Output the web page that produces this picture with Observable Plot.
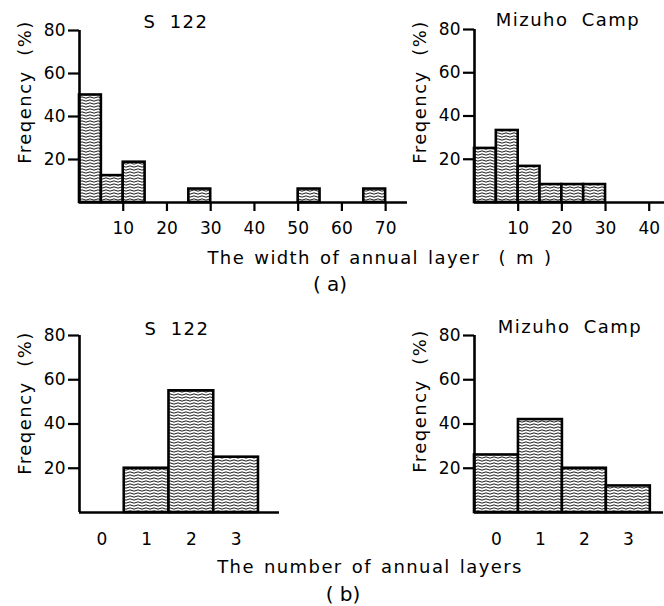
<!DOCTYPE html>
<html><head><meta charset="utf-8">
<script src="https://cdn.jsdelivr.net/npm/d3@7"></script>
<script src="https://cdn.jsdelivr.net/npm/@observablehq/plot@0.6"></script>
<style>
body{margin:0;background:#fff;}
#root{position:relative;width:664px;height:606px;overflow:hidden;font-family:"DejaVu Sans",sans-serif;color:#000;}
.p{position:absolute;}
.t{position:absolute;transform:translate(-50%,-50%);white-space:pre;line-height:1;}
.yl{position:absolute;transform:translate(-50%,-50%) rotate(-90deg);white-space:pre;line-height:1;}
</style></head><body>
<svg width="0" height="0" style="position:absolute">
  <defs>
    <pattern id="wave" patternUnits="userSpaceOnUse" width="8" height="3">
      <rect width="8" height="3" fill="#fff"/>
      <path d="M0 1.5 Q2 0.2 4 1.5 T8 1.5" fill="none" stroke="#000" stroke-width="0.9"/>
    </pattern>
  </defs>
</svg>
<div id="root"></div>
<script>
// ---- data ----
const widthS122Lo = [0, 5, 10, 25, 50, 65];
const widthS122Hi = [5, 10, 15, 30, 55, 70];
const widthS122Freq = [50, 12.5, 18.75, 6.25, 6.25, 6.25];
const widthMizuhoLo = [0, 5, 10, 15, 20, 25];
const widthMizuhoHi = [5, 10, 15, 20, 25, 30];
const widthMizuhoFreq = [25, 33.3, 16.7, 8.3, 8.3, 8.3];
const layersTicks = [0, 1, 2, 3];
const layersS122N = [1, 2, 3];
const layersS122Freq = [20, 55, 25];
const layersMizuhoN = [0, 1, 2, 3];
const layersMizuhoFreq = [26, 42, 20, 12];
const widthTicksS122 = [10, 20, 30, 40, 50, 60, 70];
const widthTicksMizuho = [10, 20, 30, 40];
const freqTicks = [20, 40, 60, 80];
const panelTitles = ["S 122", "Mizuho Camp"];
const yTitle = "Freqency  (%)";
const xTitleA = "The width of annual layer  ( m )";
const xTitleB = "The number of annual layers";

const root = document.getElementById("root");
const FONT = '"DejaVu Sans", sans-serif';

function place(el, left, top) {
  const d = document.createElement("div");
  d.className = "p";
  d.style.left = left + "px";
  d.style.top = top + "px";
  d.appendChild(el);
  root.appendChild(d);
}
function text(str, cx, cy, size, cls = "t", extra = "") {
  const d = document.createElement("div");
  d.className = cls;
  d.textContent = str;
  d.style.left = cx + "px";
  d.style.top = cy + "px";
  d.style.fontSize = size + "px";
  d.style.cssText += extra;
  root.appendChild(d);
}

const barStyle = {fill: "url(#wave)", stroke: "#000", strokeWidth: 2.6};
const svgStyle = {fontFamily: FONT, color: "#000", background: "transparent", overflow: "visible"};

function yAxisMarks() {
  return [
    Plot.axisY({ticks: freqTicks, tickSize: 11, tickPadding: 3, strokeWidth: 2.2, fontSize: 17, label: null}),
    Plot.ruleX([0], {y1: 0, y2: 80, strokeWidth: 2.6}),
  ];
}

// (a) left: S 122 width histogram
const aLeft = widthS122Lo.map((lo, i) => ({lo, hi: widthS122Hi[i], v: widthS122Freq[i]}));
place(Plot.plot({
  width: 420, height: 250,
  marginLeft: 79, marginRight: 13, marginTop: 30, marginBottom: 48,
  style: svgStyle,
  x: {domain: [0, 75]},
  y: {domain: [0, 80]},
  marks: [
    Plot.rectY(aLeft, {x1: "lo", x2: "hi", y: "v", ...barStyle}),
    Plot.ruleY([0], {strokeWidth: 2.6}),
    ...yAxisMarks(),
    Plot.axisX({ticks: widthTicksS122, tickSize: 9, tickPadding: 10, strokeWidth: 2.2, fontSize: 17, label: null}),
  ]
}), 0, 0);

// (a) right: Mizuho Camp width histogram
const aRight = widthMizuhoLo.map((lo, i) => ({lo, hi: widthMizuhoHi[i], v: widthMizuhoFreq[i]}));
place(Plot.plot({
  width: 264, height: 250,
  marginLeft: 74, marginRight: 0, marginTop: 29, marginBottom: 48,
  style: svgStyle,
  x: {domain: [0, 43.5]},
  y: {domain: [0, 80]},
  marks: [
    Plot.rectY(aRight, {x1: "lo", x2: "hi", y: "v", ...barStyle}),
    Plot.ruleY([0], {strokeWidth: 2.6}),
    ...yAxisMarks(),
    Plot.axisX({ticks: widthTicksMizuho, tickSize: 9, tickPadding: 10, strokeWidth: 2.2, fontSize: 17, label: null}),
  ]
}), 400, 0);

// (b) left: S 122 number of layers (unit-wide bars centred on each count)
const bLeft = layersS122N.map((n, i) => ({n, v: layersS122Freq[i]}));
place(Plot.plot({
  width: 290, height: 260,
  marginLeft: 79, marginRight: 11, marginTop: 35, marginBottom: 48,
  style: svgStyle,
  x: {domain: [-0.5, 3.97]},
  y: {domain: [0, 80]},
  marks: [
    Plot.rectY(bLeft, {x1: d => d.n - 0.5, x2: d => d.n + 0.5, y: "v", ...barStyle}),
    Plot.ruleY([0], {strokeWidth: 2.6}),
    Plot.axisY({ticks: freqTicks, tickSize: 11, tickPadding: 3, strokeWidth: 2.2, fontSize: 17, label: null}),
    Plot.ruleX([-0.5], {y1: 0, y2: 80, strokeWidth: 2.6}),
    Plot.axisX({ticks: layersTicks, tickFormat: d => d, tickSize: 0, tickPadding: 20, fontSize: 17, label: null}),
  ]
}), 0, 300);

// (b) right: Mizuho Camp number of layers
const bRight = layersMizuhoN.map((n, i) => ({n, v: layersMizuhoFreq[i]}));
place(Plot.plot({
  width: 284, height: 260,
  marginLeft: 94, marginRight: 1, marginTop: 35, marginBottom: 48,
  style: svgStyle,
  x: {domain: [-0.5, 3.8]},
  y: {domain: [0, 80]},
  marks: [
    Plot.rectY(bRight, {x1: d => d.n - 0.5, x2: d => d.n + 0.5, y: "v", ...barStyle}),
    Plot.ruleY([0], {strokeWidth: 2.6}),
    Plot.axisY({ticks: freqTicks, tickSize: 11, tickPadding: 3, strokeWidth: 2.2, fontSize: 17, label: null}),
    Plot.ruleX([-0.5], {y1: 0, y2: 80, strokeWidth: 2.6}),
    Plot.axisX({ticks: layersTicks, tickFormat: d => d, tickSize: 0, tickPadding: 20, fontSize: 17, label: null}),
  ]
}), 380, 300);

// titles and labels
const titleCss = "letter-spacing:1.5px;word-spacing:6px;";
text(panelTitles[0], 176, 22, 18, "t", titleCss);
text(panelTitles[1], 568, 20, 18, "t", titleCss);
text(panelTitles[0], 177, 329, 18, "t", titleCss);
text(panelTitles[1], 570, 327, 18, "t", titleCss);
const yCss = "letter-spacing:1.5px;";
text(yTitle, 25, 92, 18, "yl", yCss);
text(yTitle, 420, 92, 18, "yl", yCss);
text(yTitle, 25, 403, 18, "yl", yCss);
text(yTitle, 420, 401, 18, "yl", yCss);
const xCss = "letter-spacing:1.4px;word-spacing:2px;";
text(xTitleA, 380, 258, 18, "t", xCss);
text("( a)", 330, 284, 20);
text(xTitleB, 370, 567, 18, "t", xCss);
text("( b)", 343, 594, 20);
</script>
</body></html>
